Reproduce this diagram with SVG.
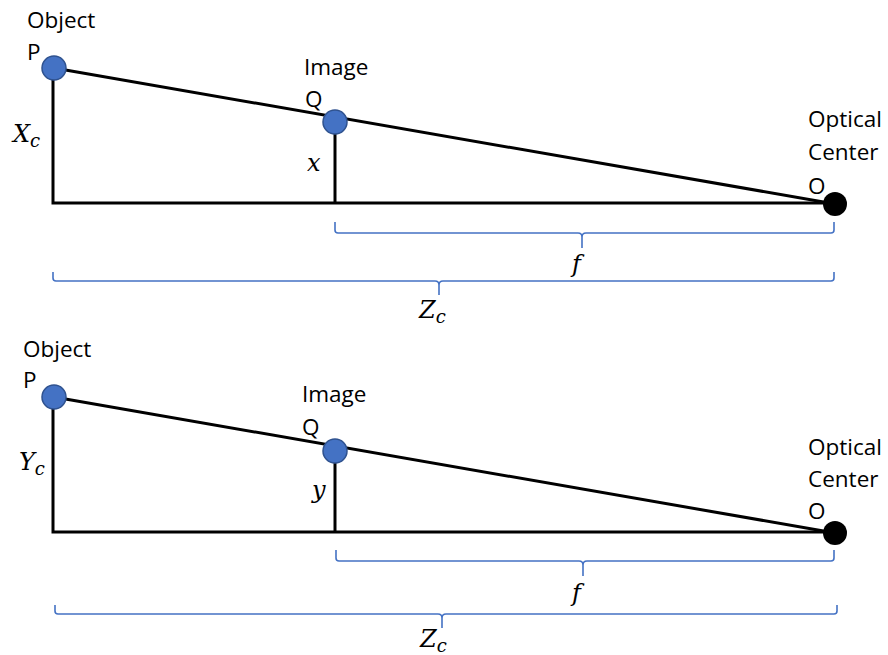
<svg xmlns="http://www.w3.org/2000/svg" width="888" height="655" viewBox="0 0 888 655">
<style>
.ln{fill:none;stroke:#000;stroke-width:3;stroke-linejoin:miter}
.br{fill:none;stroke:#4472C4;stroke-width:1.6}
.pt{fill:#4472C4;stroke:#2F528F;stroke-width:1.5}
.oc{fill:#000}
.t{font-family:"Open Sans","Liberation Sans",sans-serif;font-size:22.5px;fill:#000}
.m{font-family:"DejaVu Serif","Liberation Serif",serif;font-style:italic;font-size:24px;fill:#000}
.s{font-size:18px}
</style>
<rect width="888" height="655" fill="#fff"/>
<g id="connectors">
  <polyline class="ln" points="53,68 53,203 835,203"/>
  <line class="ln" x1="54" y1="68" x2="835" y2="204"/>
  <line class="ln" x1="335" y1="122" x2="335" y2="203"/>
  <path class="br" d="M335,222 V230 Q335,233 338,233 H578 Q582,233 582,237 V248 V237 Q582,233 586,233 H831 Q834,233 834,230 V222"/>
  <path class="br" d="M53,272 V278 Q53,281 56,281 H435 Q439,281 439,285 V295 V285 Q439,281 443,281 H831 Q834,281 834,278 V272"/>
  <polyline class="ln" points="53,397 53,532 835,532"/>
  <line class="ln" x1="54" y1="397" x2="835" y2="533"/>
  <line class="ln" x1="335" y1="451" x2="335" y2="532"/>
  <path class="br" d="M336,550 V558 Q336,561 339,561 H579 Q583,561 583,565 V576 V565 Q583,561 587,561 H831 Q834,561 834,558 V550"/>
  <path class="br" d="M55,605 V611 Q55,614 58,614 H438 Q442,614 442,618 V628 V618 Q442,614 446,614 H834 Q837,614 837,611 V605"/>
</g>
<g id="P1">
  <circle class="pt" cx="54" cy="68" r="12"/>
  <text class="t" x="27" y="28">Object</text>
  <text class="t" x="27" y="60">P</text>
</g>
<g id="Q1">
  <circle class="pt" cx="335" cy="122" r="12"/>
  <text class="t" x="304" y="75">Image</text>
  <text class="t" x="305" y="107">Q</text>
</g>
<g id="O1">
  <circle class="oc" cx="835" cy="204" r="12"/>
  <text class="t" x="808" y="127">Optical</text>
  <text class="t" x="808" y="160">Center</text>
  <text class="t" x="808" y="194">O</text>
</g>
<g id="labels1">
  <text class="m" x="13" y="142">X<tspan class="s" dy="5">c</tspan></text>
  <text class="m" x="307" y="171">x</text>
  <text class="m" x="572" y="272">f</text>
  <text class="m" x="419" y="318">Z<tspan class="s" dy="5">c</tspan></text>
</g>
<g id="P2">
  <circle class="pt" cx="54" cy="397" r="12"/>
  <text class="t" x="23" y="357">Object</text>
  <text class="t" x="23" y="388">P</text>
</g>
<g id="Q2">
  <circle class="pt" cx="335" cy="451" r="12"/>
  <text class="t" x="302" y="402">Image</text>
  <text class="t" x="302" y="435">Q</text>
</g>
<g id="O2">
  <circle class="oc" cx="835" cy="533" r="12"/>
  <text class="t" x="808" y="455">Optical</text>
  <text class="t" x="808" y="487">Center</text>
  <text class="t" x="808" y="519">O</text>
</g>
<g id="labels2">
  <text class="m" x="19" y="470">Y<tspan class="s" dy="5">c</tspan></text>
  <text class="m" x="312" y="498">y</text>
  <text class="m" x="572" y="601">f</text>
  <text class="m" x="420" y="647">Z<tspan class="s" dy="5">c</tspan></text>
</g>
</svg>
